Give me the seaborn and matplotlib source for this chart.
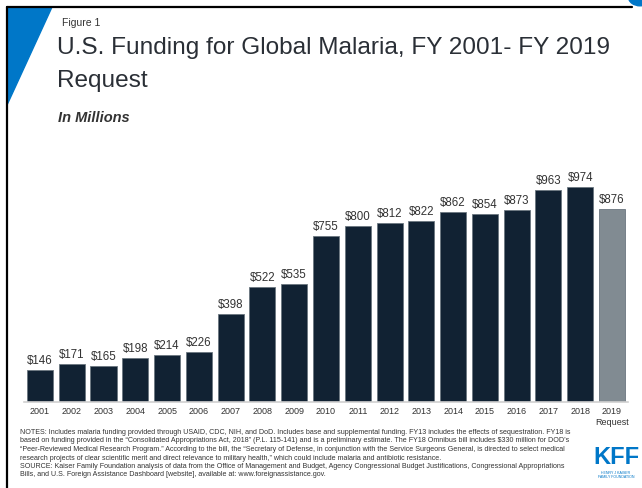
import matplotlib
matplotlib.use("Agg")
import matplotlib.pyplot as plt
import seaborn as sns
import pandas as pd
from matplotlib.patches import Polygon, Circle
from matplotlib.lines import Line2D

years = ["2001", "2002", "2003", "2004", "2005", "2006", "2007", "2008", "2009", "2010",
         "2011", "2012", "2013", "2014", "2015", "2016", "2017", "2018", "2019\nRequest"]
funding = [146, 171, 165, 198, 214, 226, 398, 522, 535, 755,
           800, 812, 822, 862, 854, 873, 963, 974, 876]
kind = ["Enacted"] * 18 + ["Request"]

df = pd.DataFrame({"year": years, "funding": funding, "kind": kind})

sns.set_theme(style="white")
plt.rcParams['font.family'] = ['Liberation Sans', 'DejaVu Sans']

fig = plt.figure(figsize=(6.42, 4.89), dpi=100)
ax = fig.add_axes([0.0375, 0.1759, 0.9405, 0.50])

palette = {"Enacted": "#0b2239", "Request": "#7e8b95"}
sns.barplot(data=df, x="year", y="funding", hue="kind", palette=palette,
            dodge=False, width=0.82, legend=False, ax=ax,
            edgecolor="#6b7680", linewidth=0.6)
ax.set_xlim(-0.5, len(years) - 0.5)
ax.set_ylim(0, 1110)
ax.set_xlabel("")
ax.set_ylabel("")
ax.set_yticks([])
for s in ["top", "right", "left"]:
    ax.spines[s].set_visible(False)
ax.spines["bottom"].set_color("#d0d0d0")
ax.spines["bottom"].set_linewidth(1.2)
ax.tick_params(axis="x", length=0, pad=3, labelsize=6.5, labelcolor="#333333")

for i, v in enumerate(funding):
    ax.text(i, v + 18, f"${v}", ha="center", va="bottom", fontsize=8.3, color="#333333")

# frame and decorations
W, H = 642, 489
def fx(x): return x / W
def fy(y): return 1 - y / H
fig.add_artist(Line2D([fx(7), fx(7)], [fy(8), fy(489)], color="black", lw=1.6))
fig.add_artist(Line2D([fx(7), fx(632)], [fy(8), fy(8)], color="black", lw=1.6))
fig.add_artist(Polygon([[fx(7), fy(8)], [fx(52), fy(8)], [fx(7), fy(106)]],
                       closed=True, color="#0077c8", transform=fig.transFigure))
fig.add_artist(Circle((fx(640), fy(-2)), 0.018, color="#0077c8", transform=fig.transFigure))

fig.text(fx(62), fy(23), "Figure 1", fontsize=7.5, color="#333333", va="center")
fig.text(fx(57), fy(48), "U.S. Funding for Global Malaria, FY 2001- FY 2019",
         fontsize=17.6, color="#2a2f36", va="center")
fig.text(fx(57), fy(81), "Request", fontsize=17.6, color="#2a2f36", va="center")
fig.text(fx(58), fy(118), "In Millions", fontsize=10.5, color="#333333",
         fontweight="bold", fontstyle="italic", va="center")

notes = ("NOTES: Includes malaria funding provided through USAID, CDC, NIH, and DoD. Includes base and supplemental funding. FY13 includes the effects of sequestration. FY18 is\n"
         "based on funding provided in the \u201cConsolidated Appropriations Act, 2018\u201d (P.L. 115-141) and is a preliminary estimate. The FY18 Omnibus bill includes $330 million for DOD\u2019s\n"
         "\u201cPeer-Reviewed Medical Research Program.\u201d According to the bill, the \u201cSecretary of Defense, in conjunction with the Service Surgeons General, is directed to select medical\n"
         "research projects of clear scientific merit and direct relevance to military health,\u201d which could include malaria and antibiotic resistance.\n"
         "SOURCE: Kaiser Family Foundation analysis of data from the Office of Management and Budget, Agency Congressional Budget Justifications, Congressional Appropriations\n"
         "Bills, and U.S. Foreign Assistance Dashboard [website], available at: www.foreignassistance.gov.")
fig.text(fx(20), fy(429), notes, fontsize=5.15, color="#333333", va="top", linespacing=1.3)

fig.text(fx(616), fy(458), "KFF", fontsize=17, fontweight="bold", color="#0077c8",
         ha="center", va="center")
fig.text(fx(616), fy(475), "HENRY J KAISER\nFAMILY FOUNDATION", fontsize=2.6, color="#0077c8",
         ha="center", va="center", linespacing=1.0)

fig.savefig("out.png", dpi=100, facecolor="white")
